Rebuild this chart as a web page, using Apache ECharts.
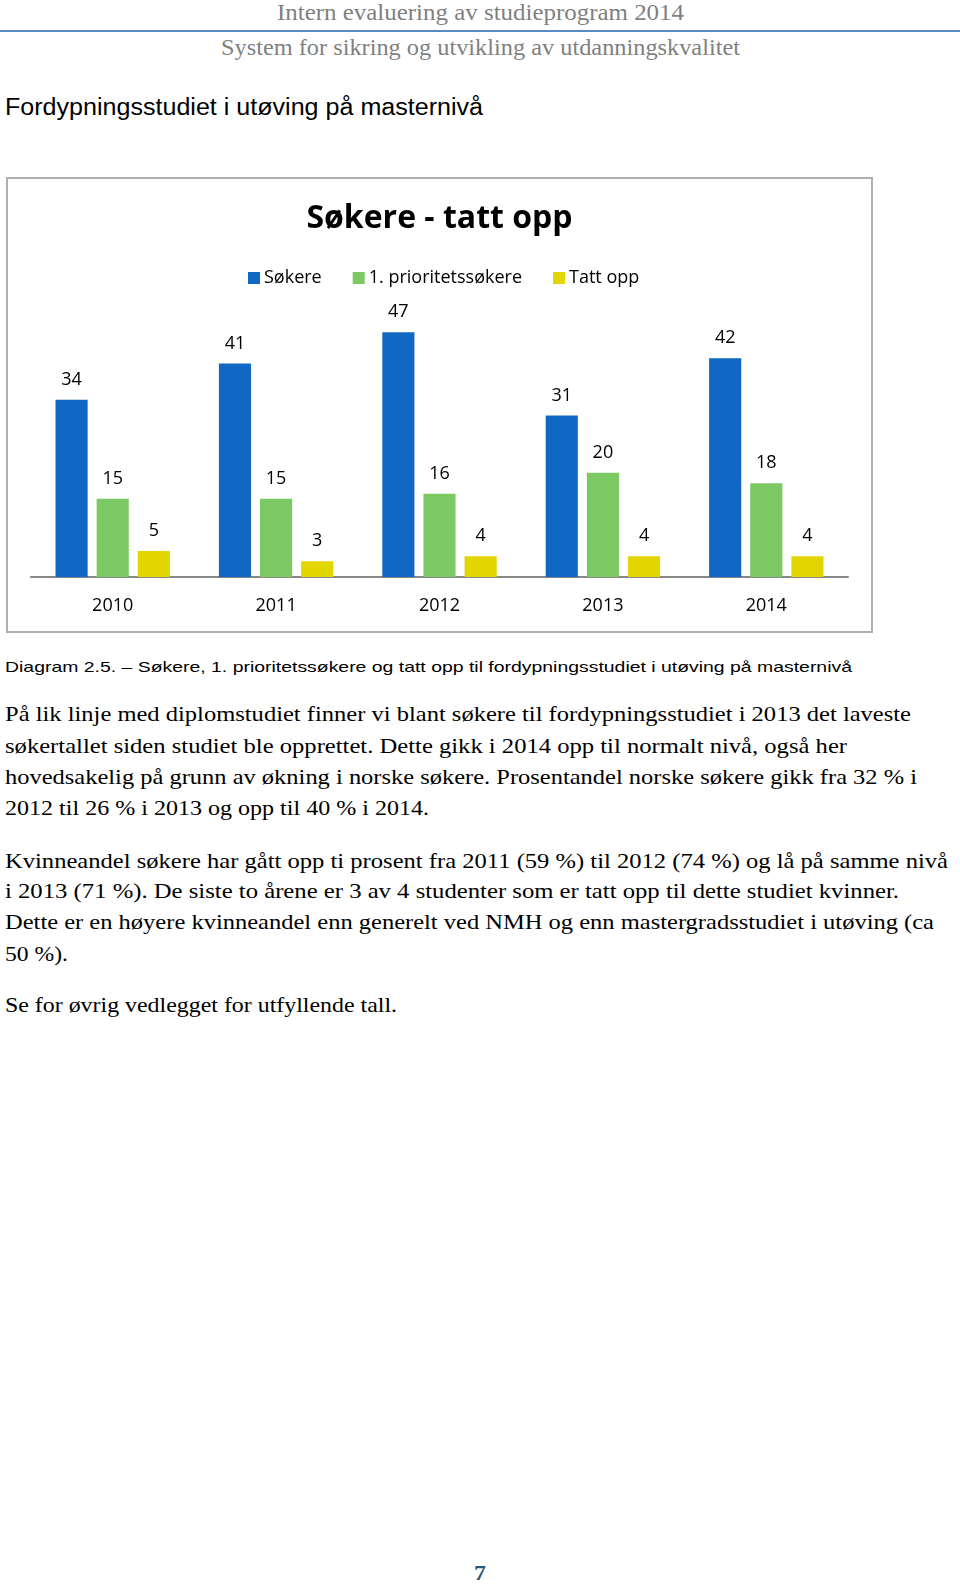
<!DOCTYPE html>
<html>
<head>
<meta charset="utf-8">
<script src="https://cdn.jsdelivr.net/npm/echarts@6/dist/echarts.min.js"></script>
<style>
  html, body { margin: 0; padding: 0; background: #fff; }
  body { width: 960px; height: 1584px; position: relative; overflow: hidden; }
  .ln { position: absolute; white-space: nowrap; transform-origin: 0 50%; }
  .hdr { font-family: "Liberation Serif", serif; color: #7f7f7f; font-size: 23px; }
  .body { font-family: "Liberation Serif", serif; color: #000; font-size: 21px; }
  .sans { font-family: "Liberation Sans", Arial, sans-serif; color: #000; }
  #rule { position: absolute; left: 0; top: 30px; width: 960px; height: 0; border-top: 2px solid #5a8ac6; }
  #frame { position: absolute; left: 6px; top: 177px; width: 863px; height: 452px; border: 2px solid #b0b0b0; }
  #chart { width: 863px; height: 452px; }
</style>
</head>
<body>
<div id="rule"></div>
<div id="frame"><div id="chart"></div></div>
<script>
// ---- chart data ----
const categories = ['2010', '2011', '2012', '2013', '2014'];
const sokere = [34, 41, 47, 31, 42];
const prioritet = [15, 15, 16, 20, 18];
const tattOpp = [5, 3, 4, 4, 4];
const seriesNames = ['Søkere', '1. prioritetssøkere', 'Tatt opp'];
const chartTitle = 'Søkere - tatt opp';

// ---- page text lines: [text, centerY, left, targetWidth, class, extra] ----
const pageLines = [
  ['Intern evaluering av studieprogram 2014', 13, 277, 407, 'hdr'],
  ['System for sikring og utvikling av utdanningskvalitet', 48, 221, 519, 'hdr'],
  ['Fordypningsstudiet i utøving på masternivå', 107, 5, 478, 'sans', 'font-size:23px'],
  ['Diagram 2.5. – Søkere, 1. prioritetssøkere og tatt opp til fordypningsstudiet i utøving på masternivå', 667, 5, 847, 'sans', 'font-size:15px'],
  ['På lik linje med diplomstudiet finner vi blant søkere til fordypningsstudiet i 2013 det laveste', 714, 5, 906, 'body'],
  ['søkertallet siden studiet ble opprettet. Dette gikk i 2014 opp til normalt nivå, også her', 746, 5, 842, 'body'],
  ['hovedsakelig på grunn av økning i norske søkere. Prosentandel norske søkere gikk fra 32 % i', 777, 5, 912, 'body'],
  ['2012 til 26 % i 2013 og opp til 40 % i 2014.', 808, 5, 424, 'body'],
  ['Kvinneandel søkere har gått opp ti prosent fra 2011 (59 %) til 2012 (74 %) og lå på samme nivå', 861, 5, 943, 'body'],
  ['i 2013 (71 %). De siste to årene er 3 av 4 studenter som er tatt opp til dette studiet kvinner.', 891, 5, 894, 'body'],
  ['Dette er en høyere kvinneandel enn generelt ved NMH og enn mastergradsstudiet i utøving (ca', 922, 5, 929, 'body'],
  ['50 %).', 954, 5, 63, 'body'],
  ['Se for øvrig vedlegget for utfyllende tall.', 1005, 5, 392, 'body'],
  ['7', 1573, 474, 12, 'body', 'font-weight:bold;color:#1f5b7c;font-size:20px']
];

pageLines.forEach(([t, cy, left, w, cls, extra]) => {
  const d = document.createElement('div');
  d.className = 'ln ' + cls;
  d.textContent = t;
  d.style.cssText = (extra || '') + ';left:' + left + 'px;line-height:30px;top:' + (cy - 15) + 'px;';
  document.body.appendChild(d);
  const mw = d.getBoundingClientRect().width;
  if (mw > 0) d.style.transform = 'scaleX(' + (w / mw) + ')';
});

// ---- chart ----
const colors = ['#1068C4', '#7CC963', '#E2D500'];
const font = '"Open Sans", "Noto Sans", sans-serif';
const chart = echarts.init(document.getElementById('chart'), null, { renderer: 'canvas' });
const mk = (name, data, c) => ({
  name, type: 'bar', data,
  barGap: '28%', barCategoryGap: '30%',
  itemStyle: { color: c },
  label: { show: true, position: 'top', distance: 11, color: '#000', fontSize: 18, fontFamily: font }
});
chart.setOption({
  animation: false,
  title: {
    text: chartTitle, left: 'center', top: 19,
    textStyle: { fontFamily: font, fontSize: 32, fontWeight: 'bold', color: '#000' }
  },
  legend: {
    data: seriesNames, left: 235, top: 85,
    itemWidth: 12, itemHeight: 12, itemGap: 31,
    icon: 'rect',
    textStyle: { fontFamily: font, fontSize: 18, color: '#000', padding: [0, 0, 0, -1] }
  },
  grid: { left: 23, right: 23, top: 137.5, bottom: 54 },
  xAxis: {
    type: 'category', data: categories,
    axisLine: { lineStyle: { color: '#888', width: 2 } },
    axisTick: { show: false },
    axisLabel: { margin: 20, fontFamily: font, fontSize: 18, color: '#000' }
  },
  yAxis: { type: 'value', min: 0, max: 50, show: false, splitLine: { show: false } },
  series: [mk(seriesNames[0], sokere, colors[0]), mk(seriesNames[1], prioritet, colors[1]), mk(seriesNames[2], tattOpp, colors[2])]
});
</script>
</body>
</html>
